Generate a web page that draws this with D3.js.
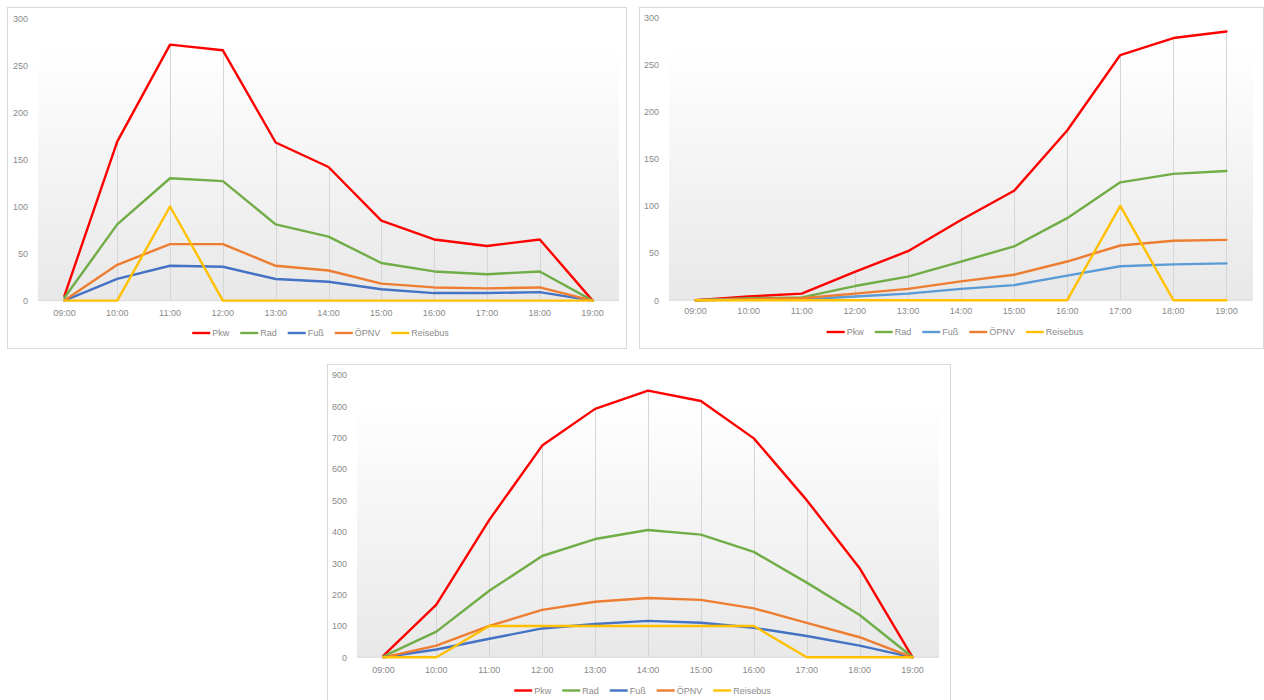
<!DOCTYPE html>
<html>
<head>
<meta charset="utf-8">
<script src="https://cdn.jsdelivr.net/npm/d3@7"></script>
<style>
  html, body { margin: 0; padding: 0; background: #ffffff; }
  svg { display: block; }
  text { font-family: "Liberation Sans", "DejaVu Sans", sans-serif; }
</style>
</head>
<body>
<svg id="chart" width="1264" height="700"></svg>
<script>
// ---------- data ----------
const hours = ["09:00","10:00","11:00","12:00","13:00","14:00","15:00","16:00","17:00","18:00","19:00"];
const seriesNames = ["Pkw","Rad","Fuß","ÖPNV","Reisebus"];

// panel 1 (top left)
const pkw1   = [5, 169, 272, 266, 168, 142, 85, 65, 58, 65, 0];
const rad1   = [3, 81, 130, 127, 81, 68, 40, 31, 28, 31, 0];
const fuss1  = [0, 23, 37, 36, 23, 20, 12, 8, 8, 9, 0];
const oepnv1 = [0, 38, 60, 60, 37, 32, 18, 14, 13, 14, 0];
const bus1   = [0, 0, 100, 0, 0, 0, 0, 0, 0, 0, 0];

// panel 2 (top right)
const pkw2   = [0, 4, 7, 30, 52, 85, 116, 180, 260, 278, 285];
const rad2   = [0, 2, 3, 15, 25, 41, 57, 87, 125, 134, 137];
const fuss2  = [0, 1, 1, 4, 7, 12, 16, 26, 36, 38, 39];
const oepnv2 = [0, 1, 2, 7, 12, 20, 27, 41, 58, 63, 64];
const bus2   = [0, 0, 0, 0, 0, 0, 0, 0, 100, 0, 0];

// panel 3 (bottom)
const pkw3   = [5, 168, 438, 675, 792, 850, 817, 698, 501, 284, 0];
const rad3   = [3, 82, 212, 323, 377, 406, 391, 336, 238, 135, 0];
const fuss3  = [0, 25, 59, 92, 106, 116, 110, 94, 68, 37, 0];
const oepnv3 = [0, 37, 100, 151, 177, 189, 183, 156, 110, 64, 0];
const bus3   = [0, 0, 100, 100, 100, 100, 100, 100, 0, 0, 0];

const ticks300 = [0, 50, 100, 150, 200, 250, 300];
const ticks900 = [0, 100, 200, 300, 400, 500, 600, 700, 800, 900];

// ---------- layout ----------
const colors1 = ["#ff0000", "#70ad47", "#4472c4", "#ed7d31", "#ffc000"];
const colors2 = ["#ff0000", "#70ad47", "#5b9bd5", "#ed7d31", "#ffc000"];

const panels = [
  { box: [7, 7, 626, 348], px: [38, 619], py: [300.6, 18.3], yTicks: ticks300,
    xLabY: 316.5, legY: 333, colors: colors1,
    series: [pkw1, rad1, fuss1, oepnv1, bus1] },
  { box: [639, 7, 1263, 348], px: [669, 1253], py: [300.2, 17.3], yTicks: ticks300,
    xLabY: 315, legY: 332, colors: colors2,
    series: [pkw2, rad2, fuss2, oepnv2, bus2] },
  { box: [327, 364, 950, 710], px: [357, 939], py: [657.3, 375], yTicks: ticks900,
    xLabY: 673.5, legY: 690.5, colors: colors1,
    series: [pkw3, rad3, fuss3, oepnv3, bus3] }
];

const svg = d3.select("#chart");
const defs = svg.append("defs");
const grad = defs.append("linearGradient").attr("id", "plotGrad")
  .attr("x1", 0).attr("y1", 0).attr("x2", 0).attr("y2", 1);
grad.append("stop").attr("offset", "0%").attr("stop-color", "#ffffff");
grad.append("stop").attr("offset", "100%").attr("stop-color", "#e8e8e8");

const textColor = "#8a8a8a";

panels.forEach((p, pi) => {
  const g = svg.append("g");
  const [bx0, by0, bx1, by1] = p.box;
  g.append("rect").attr("x", bx0 + 0.5).attr("y", by0 + 0.5)
    .attr("width", bx1 - bx0).attr("height", by1 - by0)
    .attr("fill", "#ffffff").attr("stroke", "#d9d9d9").attr("stroke-width", 1);

  const yMax = p.yTicks[p.yTicks.length - 1];
  const x = d3.scaleBand().domain(hours).range(p.px).paddingInner(0).paddingOuter(0);
  const y = d3.scaleLinear().domain([0, yMax]).range(p.py);
  const cx = d => x(d) + x.bandwidth() / 2;

  // plot area background gradient
  g.append("rect").attr("x", p.px[0]).attr("y", y(yMax) + 28)
    .attr("width", p.px[1] - p.px[0]).attr("height", y(0) - y(yMax) - 28)
    .attr("fill", "url(#plotGrad)");

  // drop lines (from highest point at each hour down to the axis)
  const tops = hours.map((h, i) => d3.max(p.series, s => s[i]));
  g.append("g").selectAll("line").data(hours).join("line")
    .attr("x1", d => Math.round(cx(d)) + 0.5).attr("x2", d => Math.round(cx(d)) + 0.5)
    .attr("y1", (d, i) => y(tops[i])).attr("y2", y(0))
    .attr("stroke", "#d6d6d6").attr("stroke-width", 1);

  // baseline
  g.append("line").attr("x1", p.px[0]).attr("x2", p.px[1])
    .attr("y1", y(0)).attr("y2", y(0)).attr("stroke", "#d9d9d9");

  // y axis (labels only)
  const yAxis = d3.axisLeft(y).tickValues(p.yTicks).tickSize(0).tickPadding(0);
  const ya = g.append("g").attr("transform", `translate(${p.px[0] - 10},0)`).call(yAxis);
  ya.select(".domain").remove();
  ya.selectAll("text").attr("fill", textColor).style("font-size", "9px")
    .style("font-family", "'Liberation Sans', sans-serif");

  // x axis (labels only)
  const xAxis = d3.axisBottom(x).tickSize(0).tickPadding(0);
  const xa = g.append("g").attr("transform", `translate(0,${p.xLabY - 7})`).call(xAxis);
  xa.select(".domain").remove();
  xa.selectAll("text").attr("fill", textColor).style("font-size", "9px")
    .style("font-family", "'Liberation Sans', sans-serif");

  // lines
  const line = d3.line().x((d, i) => cx(hours[i])).y(d => y(d));
  p.series.forEach((s, si) => {
    g.append("path").datum(s).attr("d", line)
      .attr("fill", "none").attr("stroke", p.colors[si])
      .attr("stroke-width", 2.4).attr("stroke-linejoin", "round").attr("stroke-linecap", "round");
  });

  // legend
  const leg = g.append("g");
  const items = leg.selectAll("g").data(seriesNames).join("g");
  items.append("line").attr("x1", 0).attr("x2", 18).attr("y1", 0).attr("y2", 0)
    .attr("stroke", (d, i) => p.colors[i]).attr("stroke-width", 2.4);
  items.append("text").attr("x", 20).attr("y", 3.2).text(d => d)
    .attr("fill", textColor).style("font-size", "9px");
  let off = 0;
  const offs = [];
  items.each(function () {
    offs.push(off);
    const w = d3.select(this).select("text").node().getComputedTextLength();
    off += 20 + w + 11;
  });
  const total = off - 11;
  const center = (bx0 + bx1) / 2 + 4;
  items.attr("transform", (d, i) => `translate(${center - total / 2 + offs[i]},${p.legY})`);
});
</script>
</body>
</html>
